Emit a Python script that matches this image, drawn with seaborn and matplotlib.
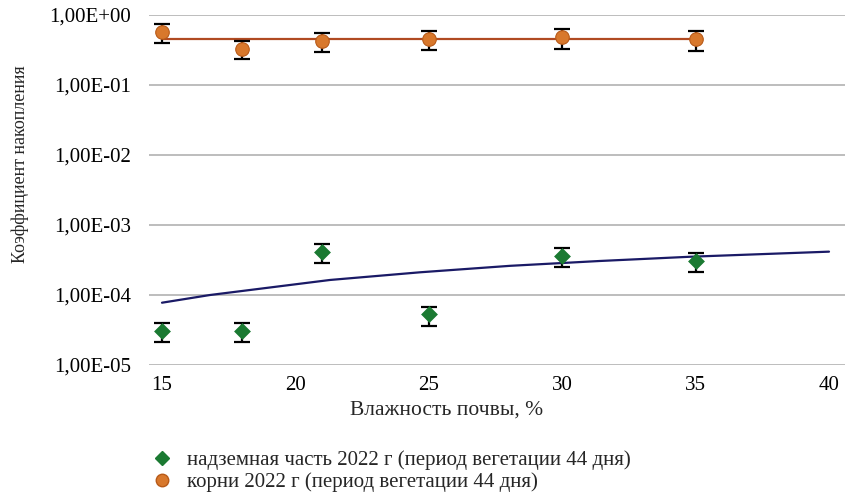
import matplotlib
matplotlib.use("Agg")
import matplotlib.pyplot as plt
import matplotlib.ticker as mticker
from matplotlib.lines import Line2D
import seaborn as sns
import pandas as pd
import numpy as np

# Soil moisture, %
moisture = [15, 18, 21, 25, 30, 35]

# Above-ground part: accumulation coefficient with error bounds
shoot_values = [3.1e-5, 3.1e-5, 4.16e-4, 5.35e-5, 3.64e-4, 3.09e-4]
shoot_low = [2.1e-5, 2.1e-5, 2.9e-4, 3.6e-5, 2.5e-4, 2.1e-4]
shoot_high = [4.0e-5, 4.0e-5, 5.3e-4, 6.8e-5, 4.7e-4, 4.0e-4]

# Roots: accumulation coefficient with error bounds
root_values = [0.566, 0.33, 0.421, 0.45, 0.48, 0.45]
root_low = [0.402, 0.235, 0.30, 0.316, 0.33, 0.31]
root_high = [0.744, 0.43, 0.553, 0.59, 0.631, 0.591]

# Trend lines
shoot_trend_x = [15, 16.8, 21.3, 24.67, 28.04, 31.4, 34.8, 40]
shoot_trend_y = [7.76e-5, 1.0e-4, 1.64e-4, 2.11e-4, 2.61e-4, 3.06e-4, 3.52e-4, 4.16e-4]
root_trend_x = [15, 35]
root_trend_y = [0.45, 0.45]

x_ticks = [15, 20, 25, 30, 35, 40]
y_ticks = [1e-5, 1e-4, 1e-3, 1e-2, 1e-1, 1e0]

label_shoot = "надземная часть 2022 г (период вегетации 44 дня)"
label_root = "корни 2022 г (период вегетации 44 дня)"
x_label = "Влажность почвы, %"
y_label = "Коэффициент накопления"

sns.set_theme(style="white")
plt.rcParams["font.family"] = ["Liberation Serif", "DejaVu Serif"]

green = "#1b7a32"
orange = "#d8782c"
orange_edge = "#b85a18"
root_line = "#b04a22"
navy = "#1a1a66"

shoot_df = pd.DataFrame({"x": moisture, "y": shoot_values})
root_df = pd.DataFrame({"x": moisture, "y": root_values})
shoot_trend_df = pd.DataFrame({"x": shoot_trend_x, "y": shoot_trend_y})
root_trend_df = pd.DataFrame({"x": root_trend_x, "y": root_trend_y})

fig = plt.figure(figsize=(8.46, 4.95), dpi=100)
ax = fig.add_axes([149 / 846, 130 / 495, 696 / 846, 350 / 495])

ax.set_yscale("log")
ax.set_ylim(1e-5, 1)
ax.set_xlim(14.513, 40.6)

for yv in y_ticks:
    ax.axhline(yv, color="#b8b8b8", lw=1.3, zorder=0)

# trend lines
sns.lineplot(data=shoot_trend_df, x="x", y="y", ax=ax, color=navy, lw=1.6,
             zorder=2, legend=False)
sns.lineplot(data=root_trend_df, x="x", y="y", ax=ax, color=root_line, lw=1.6,
             zorder=2, legend=False)

# error bars
s_v = np.array(shoot_values)
ax.errorbar(moisture, s_v, yerr=[s_v - np.array(shoot_low), np.array(shoot_high) - s_v],
            fmt="none", ecolor="black", elinewidth=1.6, capsize=6, capthick=1.6, zorder=3)
r_v = np.array(root_values)
ax.errorbar(moisture, r_v, yerr=[r_v - np.array(root_low), np.array(root_high) - r_v],
            fmt="none", ecolor="black", elinewidth=1.6, capsize=6, capthick=1.6, zorder=3)

# points
sns.scatterplot(data=shoot_df, x="x", y="y", ax=ax, marker="D", s=65, color=green,
                edgecolor=green, linewidth=0.5, zorder=4, legend=False)
sns.scatterplot(data=root_df, x="x", y="y", ax=ax, marker="o", s=95, color=orange,
                edgecolor=orange_edge, linewidth=0.8, zorder=4, legend=False)

ax.set_xticks(x_ticks)
ax.set_yticks(y_ticks)
ax.yaxis.set_minor_locator(mticker.NullLocator())
ax.yaxis.set_major_formatter(mticker.FuncFormatter(lambda v, p: f"{v:.2E}".replace(".", ",")))
ax.tick_params(axis="both", length=0, labelsize=15, colors="black")
ax.tick_params(axis="y", pad=13)
ax.tick_params(axis="x", pad=8)
for s in ax.spines.values():
    s.set_visible(False)
ax.set_xlabel("")
ax.set_ylabel("")

fig.text(447 / 846, 1 - 410 / 495, x_label, ha="center", va="center", fontsize=15.5)
fig.text(20 / 846, 1 - 164 / 495, y_label, ha="center", va="center", fontsize=13,
         rotation=90)

handles = [
    Line2D([], [], marker="D", color=green, linestyle="none", markersize=7),
    Line2D([], [], marker="o", color=orange, markeredgecolor=orange_edge,
           linestyle="none", markersize=9),
]
fig.legend(handles, [label_shoot, label_root], loc="upper left",
           bbox_to_anchor=(141 / 846, 1 - 440 / 495), frameon=False, fontsize=15,
           handlelength=1.0, handletextpad=0.7, labelspacing=0.1, borderpad=0)

fig.savefig("out.png", dpi=100)
